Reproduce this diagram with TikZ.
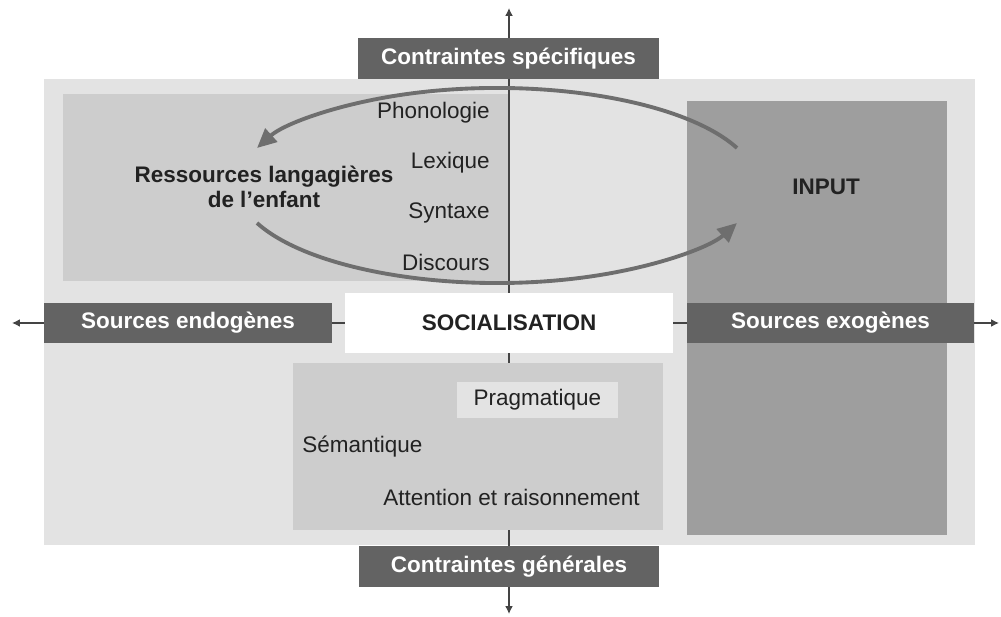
\documentclass[tikz,border=0pt]{standalone}
\usepackage{fontspec}
\setmainfont{Liberation Sans}
\usepackage{xcolor}
\usepackage{tikz}
\usetikzlibrary{arrows.meta,positioning}

\definecolor{fond}{HTML}{E3E3E3}
\definecolor{panelgris}{HTML}{CDCDCD}
\definecolor{inputgris}{HTML}{9E9E9E}
\definecolor{boxgris}{HTML}{636363}
\definecolor{flechegris}{HTML}{6E6E6E}
\definecolor{axegris}{HTML}{444444}
\definecolor{textgris}{HTML}{222222}

\begin{document}
\begin{tikzpicture}[
  x=0.02cm, y=0.02cm,
  font=\fontsize{12.8}{15}\selectfont,
  text=textgris,
  panel/.style={rectangle, anchor=north west, inner sep=0pt, fill=#1},
  contrainte/.style={rectangle, fill=boxgris, text=white, inner sep=0pt,
                     minimum height=0.82cm, font=\fontsize{12.8}{15}\selectfont\bfseries},
  socbox/.style={rectangle, fill=white, inner sep=0pt, minimum width=6.56cm,
                 minimum height=1.2cm, font=\fontsize{12.8}{15}\selectfont\bfseries},
  pragbox/.style={rectangle, fill=fond, inner sep=0pt, minimum width=3.22cm, minimum height=0.72cm},
  titre/.style={font=\fontsize{12.8}{14.2}\selectfont\bfseries, inner sep=0pt},
  item/.style={inner sep=0pt},
  axe/.style={{Latex[length=4.5pt,width=4.5pt]}-{Latex[length=4.5pt,width=4.5pt]}, line width=0.8pt, axegris},
  boucle/.style={-{Triangle[length=11pt,width=10pt]}, line width=2.2pt, flechegris},
]
\useasboundingbox (0,0) rectangle (1001,-617);

% fond et panneaux
\node[panel=fond, minimum width=18.62cm, minimum height=9.32cm] (cadre) at (44,-79) {};
\node[panel=panelgris, minimum width=8.92cm, minimum height=3.74cm] (enfant) at (63,-94) {};
\node[panel=inputgris, minimum width=5.2cm, minimum height=8.68cm] (input) at (687,-101) {};

% axes
\coordinate (haut) at (509,-8);
\coordinate (bas) at (509,-614);
\coordinate (gauche) at (12,-323);
\coordinate (droite) at (999,-323);
\draw[axe] (bas) -- (haut);
\draw[axe] (gauche) -- (droite);

\node[panel=panelgris, minimum width=7.4cm, minimum height=3.34cm] (cognition) at (293,-363) {};

% contraintes et sources
\node[contrainte, minimum width=6.02cm] (specif) at (508.5,-58.5) {Contraintes spécifiques};
\node[contrainte, minimum width=6.0cm] (general) at (509,-566.5) {Contraintes générales};
\node[contrainte, minimum width=5.76cm, minimum height=0.8cm] (endo) at (188,-323) {Sources endogènes};
\node[contrainte, minimum width=5.74cm, minimum height=0.8cm] (exo) at (830.5,-323) {Sources exogènes};
\node[socbox] (social) at (509,-323) {SOCIALISATION};

% domaines linguistiques
\foreach \t/\y [count=\i] in {Phonologie/113, Lexique/163, Syntaxe/213, Discours/262}
  {\node[item, anchor=east] (ling\i) at (490,-\y) {\t};}

\node[titre, align=center] (ressources) at (264,-187) {Ressources langagières\\de l’enfant};
\node[titre] (inputlbl) at (826,-187) {INPUT};

% domaines généraux
\node[pragbox] (prag) at (537.5,-400) {Pragmatique};
\node[item, anchor=west] (sem) at (302,-447) {Sémantique};
\node[item, anchor=west] (attention) at (383,-497) {Attention et raisonnement};

% boucle enfant <-> input
\coordinate (versenfant) at (737,-148);
\coordinate (versinput) at (257,-223);
\draw[boucle] (versenfant) arc[start angle=22.6, end angle=157.4, x radius=5.2cm, y radius=1.95cm];
\draw[boucle] (versinput) arc[start angle=202.6, end angle=337.4, x radius=5.2cm, y radius=1.95cm];

\end{tikzpicture}
\end{document}
